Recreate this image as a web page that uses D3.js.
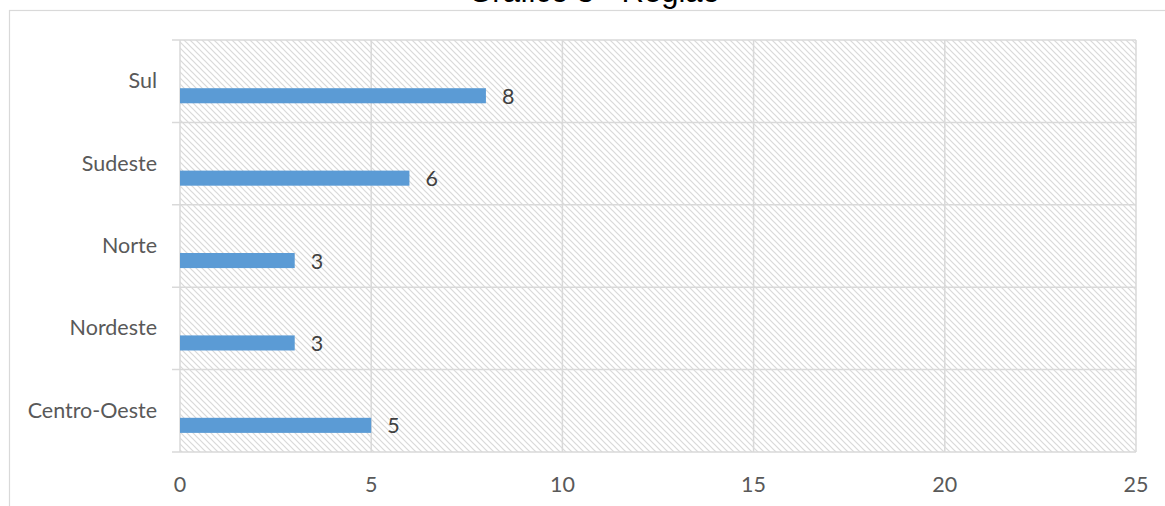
<!DOCTYPE html>
<html><head><meta charset="utf-8">
<script src="https://cdn.jsdelivr.net/npm/d3@7"></script>
<style>body{margin:0;background:#fff}svg{display:block}</style>
</head><body>
<svg id="c" width="1165" height="506"></svg>
<script>
const title = "Gráfico 3 - Região";
const categories = ["Sul", "Sudeste", "Norte", "Nordeste", "Centro-Oeste"];
const values = [8, 6, 3, 3, 5];
const xTicks = [0, 5, 10, 15, 20, 25];

const svg = d3.select("#c");
const m = {left: 180, right: 1136, top: 40, bottom: 452};
const labelFont = "Lato, 'Open Sans', sans-serif";
const fs = 21.5;

// outer border
svg.append("rect").attr("x", 9.5).attr("y", 10.5).attr("width", 1200).attr("height", 600)
  .attr("fill", "none").attr("stroke", "#d9d9d9").attr("stroke-width", 1.2);

// title (cut off at top, as in the reference)
svg.append("text").attr("x", 594).attr("y", 2).attr("text-anchor", "middle")
  .attr("font-family", "'Liberation Sans', Arial, sans-serif").attr("font-size", 31)
  .attr("fill", "#000").text(title);

const x = d3.scaleLinear().domain([0, 25]).range([m.left, m.right]);
const y = d3.scaleBand().domain(categories).range([m.top, m.bottom]);

// hatch pattern
const defs = svg.append("defs");
const pat = defs.append("pattern").attr("id", "hatch").attr("patternUnits", "userSpaceOnUse")
  .attr("width", 6).attr("height", 6);
pat.append("rect").attr("width", 6).attr("height", 6).attr("fill", "#fff");
pat.append("path").attr("d", "M-1,-1 L7,7 M-1,5 L1,7 M5,-1 L7,1")
  .attr("stroke", "#d9d9d9").attr("stroke-width", 1.2);

svg.append("rect").attr("x", m.left).attr("y", m.top)
  .attr("width", m.right - m.left).attr("height", m.bottom - m.top).attr("fill", "url(#hatch)");

// vertical gridlines
svg.append("g").selectAll("line").data(xTicks).join("line")
  .attr("x1", d => x(d)).attr("x2", d => x(d)).attr("y1", m.top).attr("y2", m.bottom)
  .attr("stroke", "#d9d9d9").attr("stroke-width", 1.5);

// horizontal category separators (with tick extension)
const edges = categories.map(c => y(c)).concat([m.bottom]);
svg.append("g").selectAll("line").data(edges).join("line")
  .attr("x1", 172).attr("x2", m.right).attr("y1", d => d).attr("y2", d => d)
  .attr("stroke", "#d9d9d9").attr("stroke-width", 1.5);

// bars
const bw = y.bandwidth();
svg.append("g").selectAll("rect").data(categories).join("rect")
  .attr("x", x(0)).attr("y", c => y(c) + bw * 0.585)
  .attr("width", (c, i) => x(values[i]) - x(0)).attr("height", bw * 0.183)
  .attr("fill", "#5b9bd5");

// value labels
svg.append("g").selectAll("text").data(categories).join("text")
  .attr("x", (c, i) => x(values[i]) + 16).attr("y", c => y(c) + bw * 0.677)
  .attr("dominant-baseline", "central")
  .attr("font-family", labelFont).attr("font-size", fs).attr("fill", "#404040")
  .text((c, i) => values[i]);

// category labels
svg.append("g").selectAll("text").data(categories).join("text")
  .attr("x", 157).attr("y", c => y(c) + bw / 2 - 1)
  .attr("text-anchor", "end").attr("dominant-baseline", "central")
  .attr("font-family", labelFont).attr("font-size", fs).attr("fill", "#595959")
  .text(c => c);

// x tick labels
svg.append("g").selectAll("text").data(xTicks).join("text")
  .attr("x", d => x(d)).attr("y", 484).attr("text-anchor", "middle")
  .attr("dominant-baseline", "central")
  .attr("font-family", labelFont).attr("font-size", fs).attr("fill", "#595959")
  .text(d => d);
</script>
</body></html>
